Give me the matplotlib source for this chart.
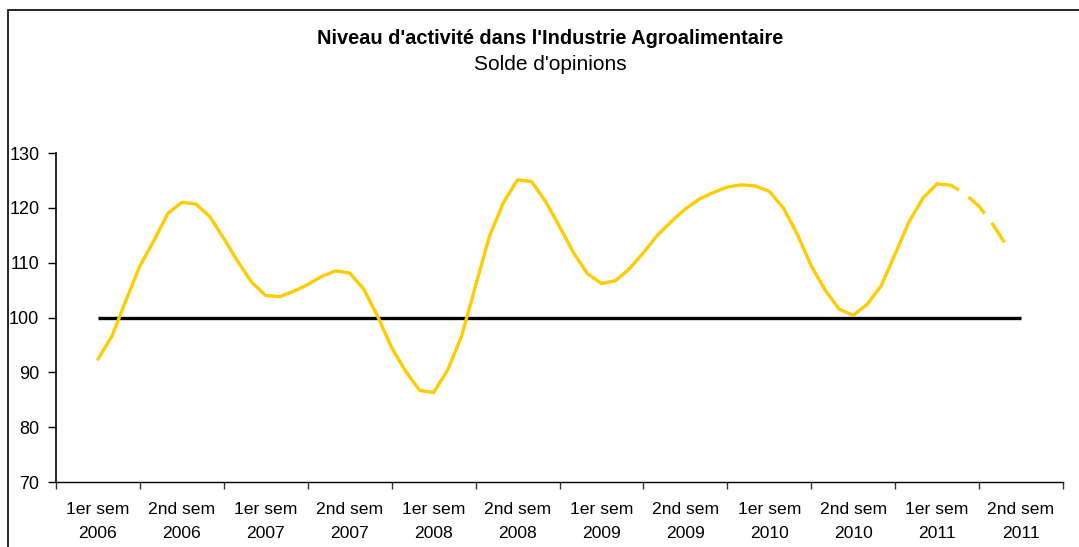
import matplotlib
matplotlib.use('Agg')
import matplotlib.pyplot as plt
from matplotlib.patches import Rectangle

plt.rcParams['font.family'] = ['Liberation Sans', 'DejaVu Sans']

# Catégories (semestres)
categories = ['1er sem\n2006', '2nd sem\n2006', '1er sem\n2007', '2nd sem\n2007',
              '1er sem\n2008', '2nd sem\n2008', '1er sem\n2009', '2nd sem\n2009',
              '1er sem\n2010', '2nd sem\n2010', '1er sem\n2011', '2nd sem\n2011']

# Solde d'opinions, valeurs mensuelles
activite = [92.4, 96.6, 103.1, 109.4, 114.0, 119.0,
            121.0, 120.7, 118.4, 114.4, 110.2, 106.4,
            104.0, 103.8, 104.8, 106.0, 107.5, 108.5,
            108.1, 105.2, 100.2, 94.5, 90.2, 86.7,
            86.3, 90.4, 96.6, 105.8, 114.9, 121.0,
            125.1, 124.8, 121.2, 116.6, 111.8, 108.0,
            106.2, 106.7, 108.9, 111.8, 115.0, 117.5,
            119.8, 121.6, 122.8, 123.8, 124.2, 124.0,
            123.0, 120.0, 115.2, 109.4, 105.0, 101.5,
            100.4, 102.4, 105.8, 111.6, 117.5, 121.8,
            124.4]
# prévisions (pointillés)
prevision = [124.4, 124.1, 122.5, 120.3, 116.9, 113.0]

reference = [100] * len(categories)

fig = plt.figure(figsize=(10.79, 5.47), dpi=100)
ax = fig.add_axes([56 / 1079, 65 / 547, 1007 / 1079, 329 / 547])

# un point par mois, 6 mois par semestre
x_act = [i / 6 for i in range(len(activite))]
x_prev = [(len(activite) - 1 + i) / 6 for i in range(len(prevision))]

ax.plot(range(len(categories)), reference, color='black', lw=2.4, solid_capstyle='butt', zorder=2)
ax.plot(x_act, activite, color='#FFCC00', lw=2.4, solid_joinstyle='round',
        solid_capstyle='round', zorder=3)
ax.plot(x_prev, prevision, color='#FFCC00', lw=2.4, dashes=(7, 3.5), zorder=3)

ax.set_xlim(-0.5, len(categories) - 0.5)
ax.set_ylim(70, 130)
ax.set_yticks(range(70, 131, 10))

ax.set_xticks([i - 0.5 for i in range(len(categories) + 1)])
ax.set_xticklabels([])
ax.set_xticks(range(len(categories)), minor=True)
ax.set_xticklabels(categories, minor=True, fontsize=12.6, linespacing=1.7)
ax.tick_params(axis='x', which='minor', length=0, pad=14.5)
ax.tick_params(axis='x', which='major', length=5, width=1, color='#333333')
ax.tick_params(axis='y', length=6, width=1, labelsize=13, pad=6)

for s in ['top', 'right']:
    ax.spines[s].set_visible(False)
ax.spines['left'].set_linewidth(1.2)
ax.spines['bottom'].set_linewidth(1.0)

fig.text(0.51, 1 - 38 / 547, "Niveau d'activité dans l'Industrie Agroalimentaire",
         ha='center', va='center', fontsize=14.4, fontweight='bold')
fig.text(0.51, 1 - 64 / 547, "Solde d'opinions", ha='center', va='center', fontsize=15)

# cadre du graphique
fig.patches.append(Rectangle((8 / 1079, -0.1), 1.1, 1.1 - 10 / 547, transform=fig.transFigure,
                             fill=False, edgecolor='black', lw=1.2))

fig.savefig('out.png', dpi=100)
